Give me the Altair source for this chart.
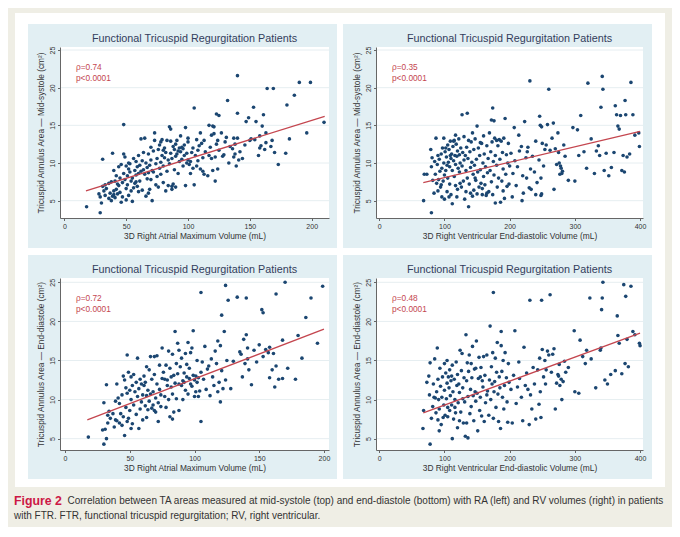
import altair as alt
import pandas as pd

# ---------------- data ----------------
ra_ms_pts = [
 (18,4.2),(29,3.4),(28,5.9),(29,5.5),(30,4.7),(31,6.9),(31,10.5),(33,5.7),(33,7.1),(34,6.6),(32,6.3),
 (36,5.3),(37,6.0),(38,5.0),(38,7.5),(39,5.6),(39,11.3),(40,5.8),(40,6.3),(40,9.0),(41,7.6),(41,5.4),(42,6.5),(42,8.3),(43,7.2),(43,5.9),(44,7.0),(44,9.5),(36,7.3),
 (45,6.1),(45,8.0),(46,4.8),(46,9.8),(47,7.4),(47,5.5),(48,15.1),(48,11.2),(48,8.6),(49,10.8),(49,7.8),(50,9.6),(50,6.6),(51,8.3),(51,7.1),(52,9.2),(52,5.7),(53,8.8),(53,9.9),(54,7.6),(54,6.3),(52,10.0),(50,5.1),
 (55,8.0),(55,4.9),(56,10.6),(56,6.7),(57,9.0),(57,7.3),(58,8.4),(58,10.2),(59,6.9),(59,9.5),(60,8.6),(60,11.0),(61,9.7),(61,7.6),(62,13.2),(62,8.9),(63,10.3),(63,6.4),(64,9.1),(64,11.4),(58,7.5),(60,6.2),
 (65,13.3),(65,8.5),(66,5.6),(66,10.0),(67,9.4),(67,7.9),(68,11.2),(68,8.7),(69,9.7),(69,6.5),(70,10.4),(70,12.1),(71,5.0),(71,9.0),(72,8.8),(72,11.6),(73,13.0),(73,14.0),(74,9.9),(74,7.1),(68,6.0),(70,7.8),
 (75,10.6),(75,8.2),(76,11.8),(76,6.8),(77,9.3),(77,12.4),(78,10.1),(78,8.5),(79,11.0),(79,13.1),(80,7.4),(80,9.6),(81,12.0),(81,10.7),(82,6.3),(82,11.4),(83,8.9),(83,13.0),(84,10.4),(84,7.0),(78,12.8),(80,11.7),
 (85,14.8),(85,9.9),(86,14.5),(86,11.3),(87,6.5),(87,10.6),(88,12.2),(88,7.2),(89,11.8),(89,9.1),(90,12.5),(90,10.9),(91,13.0),(91,11.2),(92,11.6),(92,8.6),(93,12.0),(93,10.2),(94,11.5),(94,13.6),(87,6.9),(90,6.8),(86,12.9),
 (95,12.1),(95,10.5),(96,11.9),(96,9.6),(97,12.4),(98,14.7),(98,7.0),(99,10.0),(99,11.3),(100,10.4),(100,12.8),(101,9.8),(102,10.2),(102,8.6),(103,11.4),(104,12.0),(104,9.3),(97,11.0),(100,13.3),
 (105,17.3),(105,7.1),(106,11.0),(107,13.1),(108,11.7),(108,10.3),(109,12.3),(110,14.0),(110,9.2),(111,12.6),(112,10.7),(113,8.5),(113,13.0),(114,11.5),(107,9.6),(112,8.9),
 (116,8.3),(117,15.0),(117,11.0),(118,12.1),(119,13.7),(120,14.9),(120,9.0),(121,14.8),(121,13.9),(122,7.6),(122,10.8),(123,16.5),(123,12.5),(124,13.0),(125,16.3),(125,11.7),(119,10.6),(124,9.2),
 (127,14.0),(128,10.9),(129,11.1),(130,12.8),(132,18.3),(133,10.0),(134,12.2),(131,13.4),
 (137,13.3),(137,10.8),(138,11.2),(139,9.6),(140,21.6),(140,16.6),(140,13.3),(141,10.4),(142,11.5),(144,10.6),(138,12.5),(136,11.9),
 (147,15.5),(149,16.0),(150,13.0),(151,13.2),(153,17.4),(154,13.1),(155,15.5),(146,12.4),
 (157,11.0),(158,13.6),(159,12.3),(160,14.9),(161,16.4),(162,11.8),(163,12.7),(164,19.9),(163,14.0),(158,12.0),
 (167,12.2),(169,19.9),(170,11.4),(173,9.8),(168,13.0),
 (179,11.3),(180,17.7),(182,13.2),(186,19.0),(190,20.7),(196,14.0),(199,20.7),(210,15.4),
]

rv_ms_pts = [
 (68,5.0),(69,8.5),(73,8.5),(79,11.8),(80,3.4),(80,9.5),(81,10.7),(82,7.7),(84,6.0),(85,10.2),(86,8.5),(87,13.3),(88,7.3),(89,9.8),(90,11.0),(91,7.8),(92,10.5),(93,8.9),(94,6.8),(95,11.2),(96,5.5),(96,9.3),(97,12.0),(98,7.6),(99,13.3),(99,10.0),(100,5.2),(100,8.4),(90,6.3),(95,7.1),
 (101,11.5),(102,9.0),(103,10.8),(104,6.2),(105,12.4),(105,8.0),(106,10.1),(107,11.8),(108,9.5),(108,7.2),(109,12.9),(110,10.6),(110,5.8),(111,11.2),(112,9.0),(112,4.6),(113,12.2),(114,10.3),(115,8.2),(115,13.0),(116,11.0),(117,9.8),(117,7.0),(118,12.5),(119,10.9),(120,6.5),(120,11.6),(121,9.3),(122,13.2),(123,8.8),(123,11.1),(124,10.0),(125,12.0),(126,6.8),(127,16.4),(127,9.6),(128,11.4),(129,7.6),(130,13.5),(130,10.4),(104,9.7),(109,11.0),(114,12.9),(119,5.5),(124,7.3),(102,12.0),(107,5.5),(117,13.7),
 (131,5.2),(132,11.0),(133,9.0),(134,12.1),(135,16.6),(135,8.0),(136,10.6),(137,4.2),(137,13.0),(138,7.2),(139,11.5),(140,6.0),(140,9.4),(141,12.8),(142,10.1),(143,14.0),(144,8.5),(145,6.4),(145,11.8),(146,9.7),(147,13.2),(148,7.7),(149,10.5),(150,14.9),(150,5.9),(151,8.8),(152,12.0),(153,6.8),(154,11.0),(155,9.1),(156,7.3),(157,12.6),(158,6.6),(159,10.0),(160,8.2),(160,13.6),(133,6.2),(143,5.6),(147,8.0),(155,12.7),(158,5.8),
 (161,11.2),(162,7.1),(163,9.5),(164,5.7),(165,12.3),(166,8.7),(167,10.6),(168,6.2),(169,14.0),(170,9.0),(171,11.5),(172,15.7),(172,7.5),(173,12.8),(174,17.3),(174,5.8),(175,10.2),(176,15.6),(176,8.4),(177,13.3),(178,4.7),(178,11.0),(180,9.7),(181,6.8),(182,12.3),(183,8.0),(184,13.1),(185,10.5),(186,4.8),(187,12.9),(188,7.6),(189,11.4),(190,9.2),(191,13.3),(192,5.3),(193,15.9),(194,8.5),(195,11.1),(196,6.9),(197,10.0),(198,12.6),(199,7.2),(200,9.6),(165,6.0),(180,13.0),(190,6.3),
 (202,11.3),(204,5.5),(205,8.6),(207,14.7),(208,10.3),(210,7.0),(212,9.5),(215,11.6),(218,12.2),(219,5.0),(220,8.3),(221,6.0),(223,15.5),(225,10.7),(226,8.0),(228,12.1),(230,6.7),(231,20.9),(232,9.2),(233,6.5),(235,10.9),(238,8.8),(240,12.9),(242,7.4),(245,10.4),(246,16.2),(247,15.0),(248,5.7),(248,8.0),(249,14.8),(250,12.6),(252,9.6),(254,11.8),(256,12.4),(258,15.1),(260,19.8),(240,5.8),(214,13.7),(227,11.5),(249,5.9),
 (262,11.7),(265,13.3),(267,15.3),(268,6.5),(270,11.9),(272,9.8),(274,14.0),(275,11.4),(277,8.5),(278,9.6),(280,8.6),(281,8.9),(283,12.4),(285,10.9),(290,7.7),(297,14.7),(300,7.6),(304,14.4),(306,11.0),(309,16.3),(314,11.5),(318,9.3),(320,20.6),(276,10.0),(279,9.3),
 (325,13.2),(330,8.6),(333,11.6),(338,11.0),(340,17.4),(342,21.5),(343,19.8),(345,9.0),(348,11.3),(352,8.3),(360,11.4),(364,16.4),(366,14.9),(368,14.5),(370,16.3),(372,9.0),(374,11.0),(376,8.8),(377,18.3),(378,16.4),(380,10.8),(384,11.2),(386,20.7),(389,16.4),(392,13.7),(398,14.0),(399,12.2),(336,12.3),(356,9.4),(362,17.6),
]

ra_ed_pts = [
 (18,5.2),(29,6.1),(30,4.3),(30,9.6),(31,6.2),(32,11.9),(32,5.0),(33,8.0),(34,8.5),(35,7.6),(33,7.0),
 (37,8.2),(38,6.5),(39,9.8),(40,12.0),(40,7.3),(41,10.2),(42,7.0),(42,9.5),(43,8.2),(44,6.7),(44,10.6),(45,13.0),(45,7.8),(39,7.4),
 (46,5.4),(46,12.5),(47,9.0),(47,11.5),(48,15.7),(48,10.8),(49,13.5),(49,7.6),(50,11.2),(50,8.6),(51,12.9),(51,10.0),(52,11.8),(52,6.9),(53,13.2),(53,9.3),(54,11.0),(55,8.1),(55,12.2),(48,7.2),(51,6.3),
 (56,15.3),(56,10.4),(57,6.3),(57,11.4),(58,8.8),(58,12.6),(59,9.7),(60,10.6),(60,7.4),(61,13.0),(61,11.8),(62,12.2),(62,9.2),(63,14.2),(63,10.5),(64,8.7),(64,11.2),(65,13.8),(65,9.8),(59,12.0),(63,7.7),
 (66,15.5),(66,10.7),(67,8.9),(67,12.6),(68,9.3),(68,11.0),(69,15.5),(69,13.2),(70,10.2),(70,8.4),(71,15.6),(71,12.0),(72,9.6),(72,7.2),(73,11.3),(73,14.4),(74,10.6),(75,16.6),(75,12.7),(69,8.6),(74,9.1),
 (76,13.5),(77,10.4),(78,14.4),(78,9.0),(79,11.8),(79,12.5),(80,16.2),(80,10.0),(81,14.0),(81,7.8),(82,12.9),(82,11.6),(83,15.8),(83,10.7),(84,13.1),(84,8.4),(85,18.7),(85,12.1),(77,12.6),(83,7.5),
 (86,14.6),(86,10.1),(87,17.2),(87,13.3),(88,12.0),(88,8.6),(89,14.2),(90,11.8),(90,15.3),(91,12.4),(91,10.0),(92,13.4),(92,12.2),(93,11.2),(94,14.5),(94,12.9),(95,17.3),(95,10.7),(88,16.3),(93,15.9),
 (96,12.7),(96,14.0),(97,12.0),(98,16.6),(98,11.7),(99,18.8),(99,13.1),(100,12.5),(100,10.4),(101,13.0),(102,12.2),(102,15.0),(103,12.8),(104,11.1),(105,23.7),(105,7.2),(105,13.5),(97,16.0),(101,11.0),(103,10.4),
 (106,14.8),(107,12.6),(108,16.8),(109,11.3),(110,13.9),(111,14.3),(112,10.5),(113,15.2),(114,12.9),(115,11.8),(116,16.2),(117,14.6),(118,17.5),(119,12.2),(120,16.9),(121,13.7),(121,20.8),(122,11.4),(123,18.7),(124,24.6),(125,15.0),(118,11.0),(120,9.7),(124,12.5),(126,22.7),
 (128,11.4),(130,14.9),(133,23.1),(135,16.1),(137,12.9),(138,17.7),(139,14.6),(140,18.3),(140,23.0),(141,15.2),(142,13.8),(144,11.9),(146,16.3),(148,14.8),(150,17.0),(136,15.8),(141,16.6),
 (152,21.5),(153,21.1),(153,15.5),(155,16.4),(157,16.0),(158,16.7),(160,13.8),(161,15.9),(162,11.6),(163,23.5),(163,14.3),(165,12.6),(168,17.6),(168,12.7),(170,25.0),(172,14.0),(158,12.8),
 (178,12.6),(180,18.2),(183,15.3),(186,20.5),(190,23.0),(195,17.2),(199,24.5),
]

rv_ed_pts = [
 (67,6.3),(68,8.6),(73,12.2),(76,13.0),(77,10.6),(78,4.3),(78,14.7),(80,7.6),(82,9.1),(83,12.0),(85,15.2),(86,10.2),(87,8.3),(88,11.0),(89,16.6),(90,7.4),(90,12.6),(91,10.0),(92,8.8),(93,14.0),(94,11.7),(95,6.8),(96,10.3),(97,12.9),(98,7.7),(99,9.3),(100,14.6),(100,11.2),(84,10.3),(92,6.0),
 (101,8.0),(102,13.4),(103,10.1),(104,12.1),(105,7.8),(105,9.0),(106,12.9),(107,11.5),(108,13.8),(108,8.6),(109,10.5),(110,12.4),(111,9.3),(112,5.0),(112,14.4),(113,11.0),(114,7.5),(115,12.6),(116,10.0),(117,8.3),(118,14.8),(119,11.8),(120,6.4),(120,13.2),(121,9.6),(122,12.0),(123,10.9),(124,16.3),(125,8.4),(126,13.7),(127,15.9),(128,11.5),(129,7.0),(130,12.8),(104,15.0),(111,13.0),(116,9.0),(123,7.3),(128,10.1),
 (131,9.7),(132,5.3),(133,18.3),(134,12.4),(135,14.7),(136,5.1),(136,10.4),(137,13.6),(138,15.7),(139,8.2),(140,11.3),(141,9.1),(142,12.8),(143,16.8),(144,10.5),(145,7.3),(146,13.9),(147,11.0),(148,9.8),(149,17.5),(150,10.8),(151,6.0),(152,12.7),(153,15.4),(154,8.6),(155,10.3),(156,14.1),(157,7.9),(158,12.4),(159,11.6),(160,15.5),(134,7.0),(141,14.6),(148,14.0),(155,12.9),
 (161,7.2),(162,13.1),(163,9.6),(165,15.7),(166,11.1),(168,8.0),(169,12.5),(170,19.4),(171,10.0),(172,14.2),(173,12.0),(174,16.0),(175,7.6),(176,11.0),(178,15.3),(179,9.0),(180,13.5),(181,17.3),(182,10.7),(183,7.2),(184,12.9),(186,6.3),(187,18.7),(187,16.9),(188,13.6),(189,10.3),(190,15.0),(191,8.8),(192,11.8),(193,16.0),(195,12.8),(196,9.7),(197,7.1),(198,14.6),(199,12.2),(165,10.6),(177,12.3),(185,11.5),(175,23.7),
 (202,11.3),(204,7.0),(206,13.1),(208,18.8),(210,9.5),(212,11.6),(215,12.7),(218,10.3),(220,7.3),(222,16.7),(224,11.8),(226,13.4),(228,11.3),(230,6.8),(231,22.7),(232,10.6),(234,8.8),(236,14.1),(238,12.0),(240,7.5),(243,13.8),(246,15.3),(247,11.0),(248,7.7),(249,22.7),(250,16.4),(252,12.9),(254,15.0),(256,13.8),(258,16.2),(260,15.7),(245,9.4),(255,12.0),(214,14.8),
 (262,23.4),(264,13.5),(266,15.8),(268,16.5),(270,8.8),(272,12.1),(274,13.2),(276,14.5),(277,11.8),(279,12.6),(280,10.0),(282,12.3),(284,14.9),(286,13.5),(290,14.1),(299,18.8),(300,11.0),(306,10.8),(308,17.6),(312,15.5),(316,14.6),(318,16.3),(275,13.0),
 (323,23.0),(325,15.2),(332,11.5),(341,21.5),(342,23.0),(343,25.0),(340,16.6),(346,12.5),(350,12.0),(355,13.2),(362,13.7),(365,20.7),(366,18.2),(368,17.2),(372,13.3),(375,24.7),(377,14.6),(378,23.2),(380,17.7),(382,14.2),(386,24.5),(389,18.7),(392,18.3),(399,17.2),(400,16.9),(339,16.3),
]

# fitted-line end points (x, y)
ra_ms_fit = [(17.5, 6.3), (210.5, 16.2)]
rv_ms_fit = [(67.5, 7.4), (400, 14.2)]
ra_ed_fit = [(17.2, 7.4), (200, 19.0)]
rv_ed_fit = [(67.5, 8.3), (400, 18.5)]

rho_labels = ["ρ=0.74", "ρ=0.35", "ρ=0.72", "ρ=0.48"]
p_label = "p<0.0001"
panel_title = "Functional Tricuspid Regurgitation Patients"
x_titles = ["3D Right Atrial Maximum Volume (mL)", "3D Right Ventricular End-diastolic Volume (mL)"]
y_titles = ["Tricuspid Annulus Area — Mid-systole (cm²)", "Tricuspid Annulus Area — End-diastole (cm²)"]
ra_ticks = [0, 50, 100, 150, 200]
rv_ticks = [0, 100, 200, 300, 400]
y_ticks = [5, 10, 15, 20, 25]

caption_head = "Figure 2"
caption_line1 = ("Correlation between TA areas measured at mid-systole (top) and end-diastole (bottom) "
                 "with RA (left) and RV volumes (right) in patients")
caption_line2 = "with FTR. FTR, functional tricuspid regurgitation; RV, right ventricular."

# ---------------- styles ----------------
BEIGE = "#efeee5"
BLUE = "#e2eff3"
NAVY = "#1b4671"
RED = "#c4464f"
GRID = "#e6eef1"
AXIS = "#666666"
TXT = "#333333"
TITLE_C = "#333d5c"
FONT = "Liberation Sans"

one = pd.DataFrame({"a": [0]})


def rect(x0, x1, y0, y1, color):
    return alt.Chart(one).mark_rect(color=color, strokeWidth=0).encode(
        x=alt.value(x0), x2=alt.value(x1), y=alt.value(y0), y2=alt.value(y1))


def text(s, x, y, size, color, weight="normal", align="left"):
    return alt.Chart(one).mark_text(
        text=s, fontSize=size, color=color, font=FONT, fontWeight=weight,
        align=align, baseline="middle").encode(x=alt.value(x), y=alt.value(y))


def panel(pts, fit, rho, xdom, xticks, ydom, xtitle, ytitle, w, h, bx0, bx1, extra=None):
    xs = alt.Scale(domain=xdom, nice=False, zero=False)
    ys = alt.Scale(domain=ydom, nice=False, zero=False)
    xaxis = alt.Axis(values=xticks, title=xtitle, grid=False, zindex=1, tickSize=2.5,
                     tickColor=AXIS, domainColor=AXIS, labelColor=TXT, titleColor=TXT,
                     labelFont=FONT, titleFont=FONT, labelFontSize=7, titleFontSize=8.4,
                     titleFontWeight="normal", labelPadding=2, titlePadding=2)
    yaxis = alt.Axis(values=y_ticks, title=ytitle, grid=False, zindex=1, tickSize=2.5,
                     tickColor=AXIS, domainColor=AXIS, labelColor=TXT, titleColor=TXT,
                     labelFont=FONT, titleFont=FONT, labelFontSize=7, titleFontSize=8.3,
                     titleFontWeight="normal", labelAngle=270, labelAlign="center",
                     labelBaseline="bottom", labelPadding=2.5, titlePadding=3)
    df = pd.DataFrame(pts, columns=["x", "y"])
    fdf = pd.DataFrame(fit, columns=["x", "y"])
    gdf = pd.DataFrame({"y": y_ticks})
    layers = []
    if extra:
        layers += extra
    layers += [
        rect(bx0, bx1, -23, 201, BLUE),
        rect(0, w, 0, h, "white"),
        alt.Chart(gdf).mark_rule(color=GRID, strokeWidth=1).encode(
            y=alt.Y("y:Q", scale=ys, axis=yaxis), x=alt.value(0), x2=alt.value(w)),
        alt.Chart(df).mark_circle(size=13, color=NAVY, opacity=1).encode(
            x=alt.X("x:Q", scale=xs, axis=xaxis), y=alt.Y("y:Q", scale=ys, axis=yaxis)),
        alt.Chart(fdf).mark_line(color=RED, strokeWidth=1.3).encode(
            x=alt.X("x:Q", scale=xs, axis=xaxis), y=alt.Y("y:Q", scale=ys, axis=yaxis)),
        text(rho, 16, 21, 8.3, RED),
        text(p_label, 16, 32, 8.3, RED),
        text(panel_title, w / 2, -8.5, 10.8, TITLE_C, align="center"),
    ]
    return alt.layer(*layers).properties(width=w, height=h)


# page coordinates: TL plot origin at (60, 47)
background = [
    rect(-52, 612, -39, 480, BEIGE),
    rect(-45, 605, -34, 440, "white"),
    text(caption_head, -46, 454, 12.3, "#cc1846", weight="bold"),
    text(caption_line1, 7.5, 454, 10, TXT),
    text(caption_line2, -46, 469, 10, TXT),
]

W_L, W_R, H_T, H_B = 269, 267, 171, 172

tl = panel(ra_ms_pts, ra_ms_fit, rho_labels[0], [-3.5, 214], ra_ticks, [2.7, 25.4],
           x_titles[0], y_titles[0], W_L, H_T, -32, 277, extra=background)
tr = panel(rv_ms_pts, rv_ms_fit, rho_labels[1], [-5, 404.5], rv_ticks, [2.7, 25.4],
           x_titles[1], y_titles[0], W_R, H_T, -33, 276)
bl = panel(ra_ed_pts, ra_ed_fit, rho_labels[2], [-3.9, 203.9], ra_ticks, [3.55, 25.55],
           x_titles[0], y_titles[1], W_L, H_B, -32, 277)
br = panel(rv_ed_pts, rv_ed_fit, rho_labels[3], [-5, 404.5], rv_ticks, [3.55, 25.55],
           x_titles[1], y_titles[1], W_R, H_B, -33, 276)

chart = alt.concat(tl, tr, bl, br, columns=2, spacing={"row": 60, "column": 47},
                   bounds="flush").properties(
    padding=0, background=BEIGE).configure_view(strokeWidth=0)

chart.save("out.html", embed_options={"renderer": "svg", "actions": False})
